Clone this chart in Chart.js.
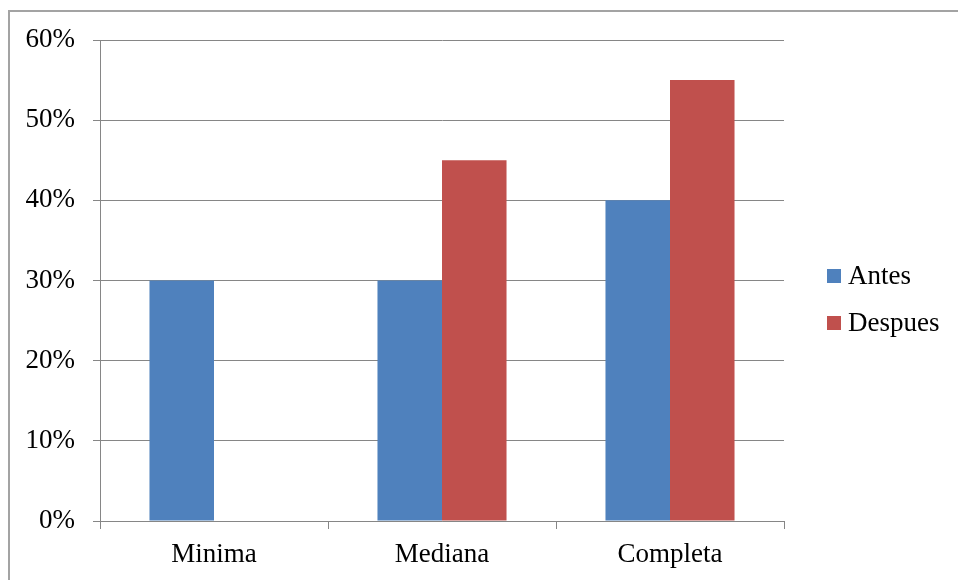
<!DOCTYPE html>
<html>
<head>
<meta charset="utf-8">
<script src="https://cdn.jsdelivr.net/npm/chart.js@4.4.0/dist/chart.umd.min.js"></script>
<style>
  html, body { margin: 0; padding: 0; background: #fff; overflow: hidden; }
  #wrap { position: relative; width: 958px; height: 580px; }
  #frame {
    position: absolute; left: 8px; top: 10px; width: 2000px; height: 2000px;
    border: 2px solid #a3a3a3;
  }
  #chart { position: absolute; left: 0; top: 0; }
  #legend {
    position: absolute; left: 827px; top: 252px;
    font-family: "Liberation Serif", "Times New Roman", serif; font-size: 27px; color: #000;
  }
  .item { display: flex; align-items: center; height: 47px; line-height: 27px; }
  .box { width: 14px; height: 14px; margin-right: 7px; }
</style>
</head>
<body>
<div id="wrap">
  <div id="frame"></div>
  <canvas id="chart" width="958" height="580"></canvas>
  <div id="legend"></div>
</div>
<script>
const categories = ["Minima", "Mediana", "Completa"];
const antes = [0.30, 0.30, 0.40];
const despues = [0, 0.45, 0.55];
const seriesNames = ["Antes", "Despues"];
const yTicks = [0, 0.1, 0.2, 0.3, 0.4, 0.5, 0.6];

const axisGray = "#868686";
const serif = "'Liberation Serif', 'Times New Roman', serif";

const chartCanvas = document.getElementById("chart");

const chart = new Chart(chartCanvas, {
  type: "bar",
  data: {
    labels: categories,
    datasets: [{
      label: seriesNames[0],
      data: antes,
      backgroundColor: "#4F81BD",
      borderWidth: 0
    }, {
      label: seriesNames[1],
      data: despues,
      backgroundColor: "#C0504D",
      borderWidth: 0
    }]
  },
  options: {
    responsive: false,
    animation: false,
    devicePixelRatio: 1,
    layout: { padding: { top: 40, right: 174, left: 0, bottom: 0 } },
    datasets: { bar: { barPercentage: 1, categoryPercentage: 0.566 } },
    scales: {
      x: {
        offset: true,
        grid: { offset: true, drawOnChartArea: false, drawTicks: true, tickLength: 8, color: axisGray },
        border: { color: axisGray, width: 1 },
        ticks: { color: "#000", font: { family: serif, size: 27 }, padding: 10, maxRotation: 0 },
        afterFit: scale => { scale.height = 59; }
      },
      y: {
        min: 0,
        max: 0.6,
        afterBuildTicks: scale => { scale.ticks = yTicks.map(v => ({ value: v })); },
        grid: { color: axisGray, tickLength: 7 },
        border: { color: axisGray, width: 1 },
        ticks: {
          color: "#000",
          font: { family: serif, size: 27 },
          padding: 18,
          callback: v => Math.round(v * 100) + "%"
        },
        afterFit: scale => { scale.width = 100; }
      }
    },
    plugins: {
      legend: { display: false },
      tooltip: { enabled: false }
    }
  }
});

// legend on the right, built from the datasets
const legendBox = document.getElementById("legend");
chart.data.datasets.forEach(ds => {
  const row = document.createElement("div");
  row.className = "item";
  const sw = document.createElement("span");
  sw.className = "box";
  sw.style.background = ds.backgroundColor;
  const txt = document.createElement("span");
  txt.textContent = ds.label;
  row.appendChild(sw);
  row.appendChild(txt);
  legendBox.appendChild(row);
});
</script>
</body>
</html>
